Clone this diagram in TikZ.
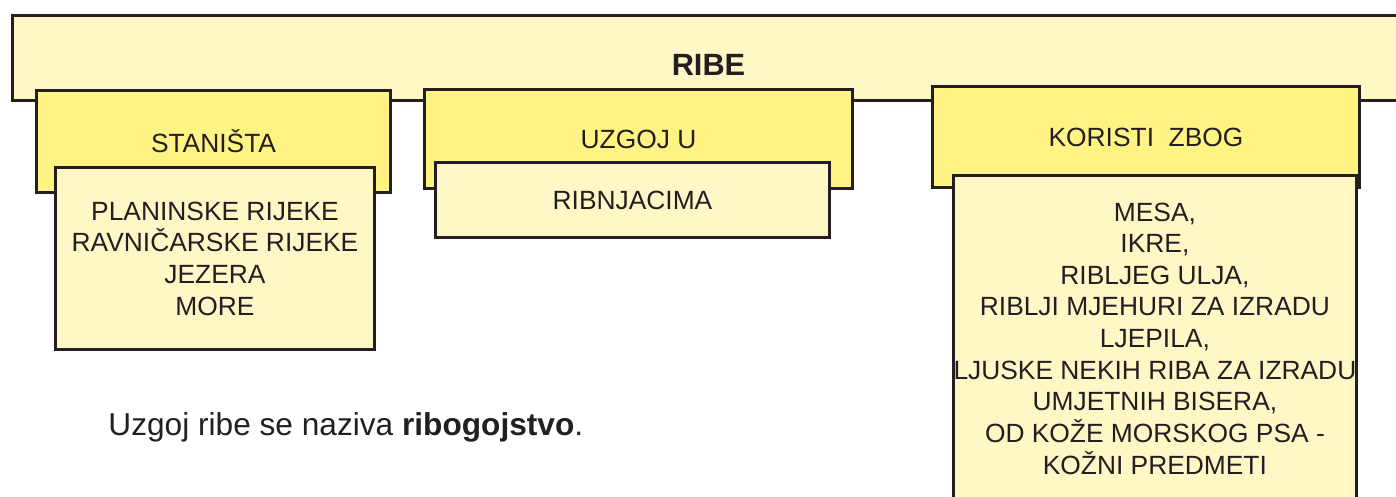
\documentclass[tikz,border=0pt]{standalone}
\usepackage{fontspec}
\setmainfont{Liberation Sans}
\usepackage{tikz}
\usetikzlibrary{positioning,calc}
\usepackage{xcolor}
\definecolor{ribelight}{HTML}{FFF8C6}
\definecolor{ribeyellow}{HTML}{FFF384}
\definecolor{ribeline}{HTML}{231F20}

\begin{document}
\begin{tikzpicture}[line width=1.7pt,
      box/.style={draw=ribeline,anchor=north west,inner sep=0pt,align=center,
                  text=ribeline,font=\fontsize{15}{18}\selectfont},
      topbox/.style={box,fill=ribelight},
      headbox/.style={box,fill=ribeyellow},
      listbox/.style={box,fill=ribelight}]
    \useasboundingbox (0,0) rectangle (27.92,-9.94);
    \begin{scope}
    \clip (0,0) rectangle (27.92,-9.94);
    \node[topbox,minimum width=27.84cm,minimum height=1.70cm] (ribe) at (0.22,-0.28) {};
    \node[font=\fontsize{17.5}{21}\selectfont\bfseries,text=ribeline,inner sep=0pt]
      (ribetxt) at ($(ribe.center)+(0,-0.13)$) {RIBE};

    % staništa
    \node[headbox,minimum width=7.08cm,minimum height=2.04cm] (stan) at (0.70,-1.78) {STANIŠTA};
    \node[listbox,minimum width=6.38cm,minimum height=3.64cm] (stanlist) at (1.08,-3.32)
      {PLANINSKE RIJEKE\\RAVNIČARSKE RIJEKE\\JEZERA\\MORE};

    % uzgoj
    \node[headbox,minimum width=8.56cm,minimum height=1.98cm] (uzgoj) at (8.46,-1.76) {UZGOJ U};
    \node[listbox,minimum width=7.88cm,minimum height=1.50cm] (uzgojlist) at (8.68,-3.22) {RIBNJACIMA};

    % koristi
    \node[headbox,minimum width=8.54cm,minimum height=2.02cm] (kor) at (18.62,-1.70) {KORISTI~~ZBOG};
    \node[listbox,minimum width=7.96cm,minimum height=6.52cm] (korlist) at (19.04,-3.48)
      {MESA,\\IKRE,\\RIBLJEG ULJA,\\RIBLJI MJEHURI ZA IZRADU\\LJEPILA,\\
       LJUSKE NEKIH RIBA ZA IZRADU\\UMJETNIH BISERA,\\OD KOŽE MORSKOG PSA -\\KOŽNI PREDMETI};
    \end{scope}

    \node[anchor=west,inner sep=0pt,text=ribeline,font=\fontsize{18}{22}\selectfont]
      (note) at (2.14,-8.54) {Uzgoj ribe se naziva \textbf{ribogojstvo}.};
  \end{tikzpicture}
\end{document}
